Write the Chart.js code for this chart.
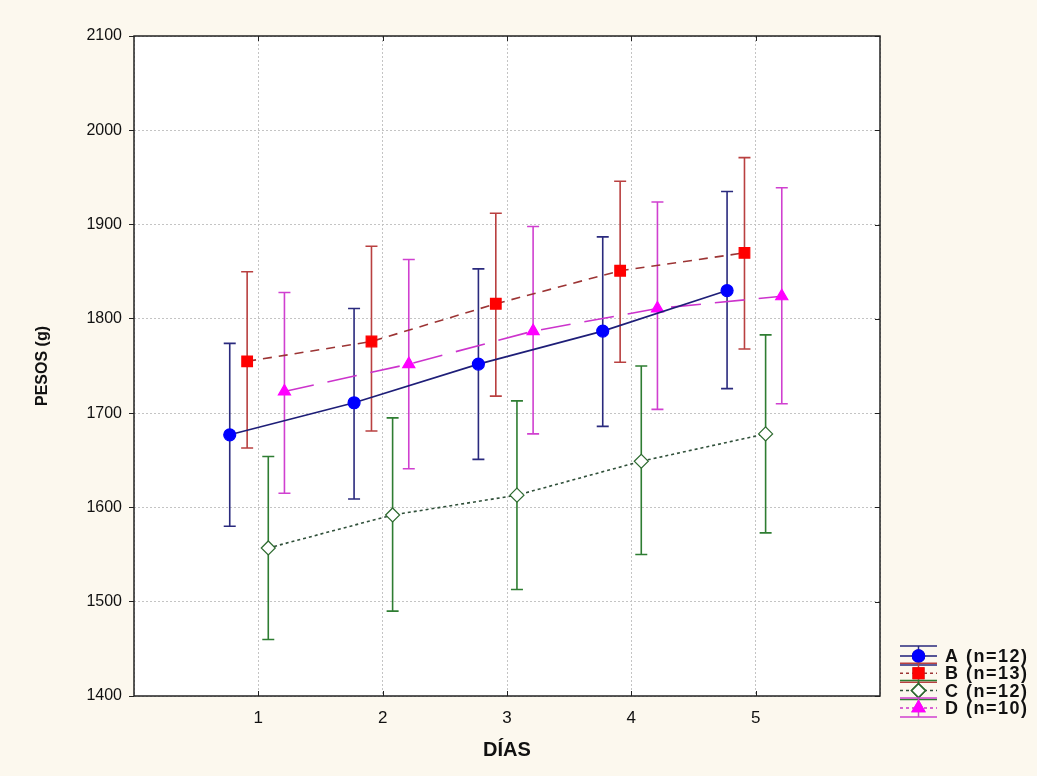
<!DOCTYPE html>
<html>
<head>
<meta charset="utf-8">
<script src="https://cdn.jsdelivr.net/npm/chart.js@4.4.0/dist/chart.umd.min.js"></script>
<style>
  html, body { margin: 0; padding: 0; background: #fcf8ee; }
  #wrap { width: 1037px; height: 776px; }
</style>
</head>
<body>
<div id="wrap"><canvas id="pesosChart" width="1037" height="776"></canvas></div>
<script>
// Datos
const dias = [1, 2, 3, 4, 5];
const grupos = ['A (n=12)', 'B (n=13)', 'C (n=12)', 'D (n=10)'];
const ticksY = [1400, 1500, 1600, 1700, 1800, 1900, 2000, 2100];

const mediaA = [1677, 1711, 1752, 1787, 1830];
const altoA  = [1774, 1811, 1853, 1887, 1935];
const bajoA  = [1580, 1609, 1651, 1686, 1726];

const mediaB = [1755, 1776, 1816, 1851, 1870];
const altoB  = [1850, 1877, 1912, 1946, 1971];
const bajoB  = [1663, 1681, 1718, 1754, 1768];

const mediaC = [1557, 1592, 1613, 1649, 1678];
const altoC  = [1654, 1695, 1713, 1750, 1783];
const bajoC  = [1460, 1490, 1513, 1550, 1573];

const mediaD = [1723, 1752, 1787, 1811, 1824];
const altoD  = [1828, 1863, 1898, 1924, 1939];
const bajoD  = [1615, 1641, 1678, 1704, 1710];

// desplazamiento horizontal de cada grupo dentro de cada día
const desplaz = [-0.23, -0.09, 0.08, 0.21];

function serie(media, alto, bajo, k) {
    return dias.map((d, i) => ({ x: d + desplaz[k], y: media[i], hi: alto[i], lo: bajo[i] }));
}

const estilos = [
    { linea: '#1e1e78', barra: '#2a2a7e', punto: '#0000ff', borde: '#0000ff', forma: 'circle', radio: 6, dash: [] },
    { linea: '#9c3434', barra: '#b94040', punto: '#ff0000', borde: '#ff0000', forma: 'rect', radio: 7.5, dash: [9, 7] },
    { linea: '#30503a', barra: '#2e7d32', punto: '#ffffff', borde: '#2e6b30', forma: 'rectRot', radio: 7, dash: [3, 3] },
    { linea: '#cc33cc', barra: '#d040d0', punto: '#ff00ff', borde: '#ff00ff', forma: 'triangle', radio: 7, dash: [30, 14] }
];

const datos = [
    serie(mediaA, altoA, bajoA, 0),
    serie(mediaB, altoB, bajoB, 1),
    serie(mediaC, altoC, bajoC, 2),
    serie(mediaD, altoD, bajoD, 3)
];

// Fondo, barras de error, marco y leyenda
const plugErrores = {
    id: 'errores',
    beforeDraw(chart) {
        const { ctx, chartArea: a } = chart;
        ctx.save();
        ctx.fillStyle = '#fcf8ee';
        ctx.fillRect(0, 0, chart.width, chart.height);
        ctx.fillStyle = '#ffffff';
        ctx.fillRect(a.left, a.top, a.right - a.left, a.bottom - a.top);
        ctx.restore();
    },
    beforeDatasetsDraw(chart) {
        const { ctx, scales: { x, y } } = chart;
        ctx.save();
        chart.data.datasets.forEach((ds, k) => {
            ctx.strokeStyle = estilos[k].barra;
            ctx.lineWidth = 1.6;
            ds.data.forEach(p => {
                const px = x.getPixelForValue(p.x);
                const yh = y.getPixelForValue(p.hi);
                const yl = y.getPixelForValue(p.lo);
                ctx.beginPath();
                ctx.moveTo(px, yh); ctx.lineTo(px, yl);
                ctx.moveTo(px - 6, yh); ctx.lineTo(px + 6, yh);
                ctx.moveTo(px - 6, yl); ctx.lineTo(px + 6, yl);
                ctx.stroke();
            });
        });
        ctx.restore();
    },
    afterDraw(chart) {
        const { ctx, chartArea: a, scales: { x, y } } = chart;
        ctx.save();
        // marco
        ctx.strokeStyle = '#222';
        ctx.lineWidth = 1.5;
        ctx.strokeRect(a.left, a.top, a.right - a.left, a.bottom - a.top);
        ctx.lineWidth = 1;
        ctx.beginPath();
        dias.forEach(d => {
            const px = Math.round(x.getPixelForValue(d)) + 0.5;
            ctx.moveTo(px, a.bottom); ctx.lineTo(px, a.bottom - 5);
            ctx.moveTo(px, a.top); ctx.lineTo(px, a.top + 5);
        });
        ticksY.forEach(v => {
            const py = Math.round(y.getPixelForValue(v)) + 0.5;
            ctx.moveTo(a.right, py); ctx.lineTo(a.right - 5, py);
        });
        ctx.stroke();

        // leyenda
        const lx = 900, lw = 37;
        ctx.font = 'bold 18px "Liberation Sans", Arial, sans-serif';
        ctx.textBaseline = 'middle';
        if ('letterSpacing' in ctx) ctx.letterSpacing = '1.5px';
        grupos.forEach((g, k) => {
            const e = estilos[k];
            const cy = 656 + k * 17.3;
            const cx = lx + lw / 2;
            ctx.strokeStyle = e.barra;
            ctx.lineWidth = 1.5;
            ctx.setLineDash([]);
            ctx.beginPath();
            ctx.moveTo(lx, cy - 10); ctx.lineTo(lx + lw, cy - 10);
            ctx.moveTo(lx, cy + 9); ctx.lineTo(lx + lw, cy + 9);
            ctx.moveTo(cx, cy - 10); ctx.lineTo(cx, cy + 9);
            ctx.stroke();
            ctx.strokeStyle = e.linea;
            ctx.setLineDash(e.dash.length ? [3, 3] : []);
            ctx.beginPath();
            ctx.moveTo(lx, cy); ctx.lineTo(lx + lw, cy);
            ctx.stroke();
            ctx.setLineDash([]);
            Chart.helpers.drawPoint(ctx, {
                pointStyle: e.forma, radius: e.radio, borderWidth: 1.2, rotation: 0
            }, cx, cy);
            ctx.fillStyle = e.punto;
            ctx.strokeStyle = e.borde;
            ctx.fill();
            ctx.stroke();
            ctx.fillStyle = '#111';
            ctx.fillText(g, lx + lw + 8, cy + 1);
        });
        ctx.restore();
    }
};

const ctxPesos = document.getElementById('pesosChart').getContext('2d');
new Chart(ctxPesos, {
    type: 'line',
    data: {
        datasets: datos.map((d, k) => ({
            label: grupos[k],
            data: d,
            borderColor: estilos[k].linea,
            borderWidth: 1.6,
            borderDash: estilos[k].dash,
            pointStyle: estilos[k].forma,
            pointRadius: estilos[k].radio,
            pointBackgroundColor: estilos[k].punto,
            pointBorderColor: estilos[k].borde,
            pointBorderWidth: 1.2,
            fill: false,
            tension: 0
        }))
    },
    options: {
        responsive: false,
        animation: false,
        devicePixelRatio: 1,
        layout: { padding: { left: 0, top: 36, right: 157, bottom: 0 } },
        plugins: {
            legend: { display: false },
            tooltip: { enabled: false }
        },
        scales: {
            x: {
                type: 'linear',
                min: 0,
                max: 6,
                afterFit: s => { s.height = 80; },
                afterBuildTicks: s => { s.ticks = [0, ...dias, 6].map(v => ({ value: v })); },
                ticks: {
                    callback: v => dias.includes(v) ? String(v) : '',
                    padding: 12,
                    color: '#111',
                    font: { family: '"Liberation Sans Narrow", "Liberation Sans", Arial', size: 17 }
                },
                grid: { color: '#c4c4c4', drawTicks: false, lineWidth: 1 },
                border: { display: false, dash: [2, 2] },
                title: {
                    display: true,
                    text: 'DÍAS',
                    color: '#111',
                    padding: { top: 0, bottom: 14 },
                    font: { family: '"Liberation Sans", Arial', size: 20, weight: 'bold' }
                }
            },
            y: {
                min: 1400,
                max: 2100,
                afterFit: s => { s.width = 134; },
                afterBuildTicks: s => { s.ticks = ticksY.map(v => ({ value: v })); },
                ticks: {
                    callback: v => String(v),
                    padding: 7,
                    color: '#111',
                    font: { family: '"Liberation Sans", Arial', size: 16 }
                },
                grid: {
                    color: '#c4c4c4',
                    lineWidth: 1,
                    tickLength: 5,
                    tickColor: '#222',
                    tickBorderDash: []
                },
                border: { display: false, dash: [2, 2] },
                title: {
                    display: true,
                    text: 'PESOS (g)',
                    color: '#111',
                    padding: { top: 33, bottom: 0 },
                    font: { family: '"Liberation Sans", Arial', size: 16, weight: 'bold' }
                }
            }
        }
    },
    plugins: [plugErrores]
});
</script>
</body>
</html>
